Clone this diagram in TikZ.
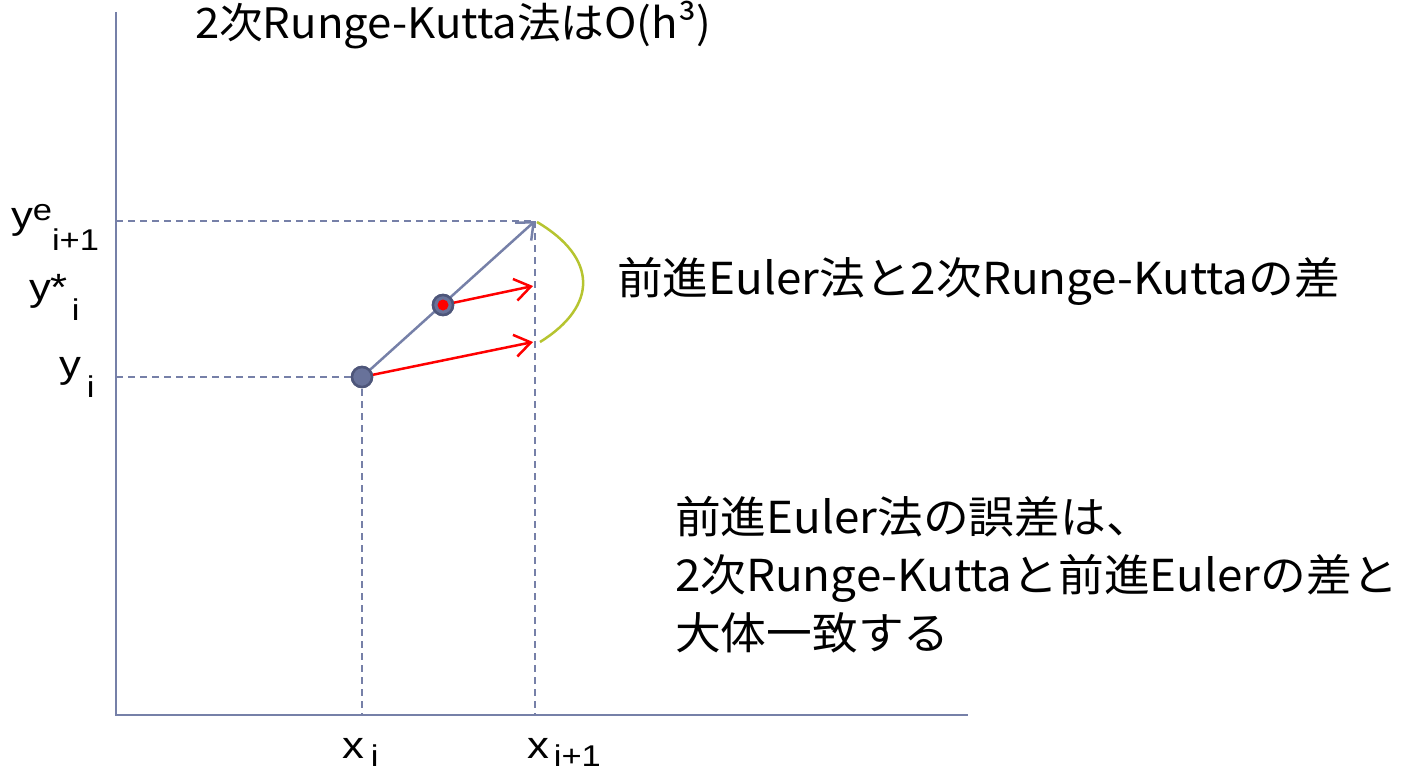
\documentclass[tikz,border=0pt]{standalone}
\usepackage{fontspec}
\usetikzlibrary{arrows.meta}
\newfontfamily\jpf[FakeStretch=1.04]{Noto Sans CJK JP}
\newfontfamily\labf[FakeStretch=1.15]{Liberation Sans}
\definecolor{axisc}{RGB}{118,128,168}
\definecolor{dotfill}{RGB}{104,114,154}
\definecolor{dotedge}{RGB}{78,86,122}
\definecolor{curvec}{RGB}{182,196,48}
\newcommand{\bigjp}{\jpf\fontsize{44pt}{52pt}\selectfont}
\newcommand{\titjp}{\jpf\fontsize{42pt}{50pt}\selectfont}
\newcommand{\labmain}{\labf\fontsize{38pt}{44pt}\selectfont}
\newcommand{\labsub}{\labf\fontsize{30pt}{36pt}\selectfont}
\tikzset{
  axisline/.style={draw=axisc, line width=2pt},
  guide/.style={draw=axisc, line width=2.2pt, dash pattern=on 7pt off 5pt},
  txt/.style={inner sep=0pt, outer sep=0pt, anchor=base west},
  dot/.style={circle, fill=dotfill, draw=dotedge, line width=2.5pt, minimum size=20pt, inner sep=0pt},
  reddot/.style={circle, fill=red, inner sep=0pt, minimum size=11pt},
  grayarrow/.style={draw=axisc, line width=2.5pt, -{Straight Barb[length=14pt,width=24pt]}},
  redarrow/.style={draw=red, line width=2.5pt, -{Straight Barb[length=16pt,width=22pt]}},
  errcurve/.style={draw=curvec, line width=2.5pt}
}
\begin{document}
\begin{tikzpicture}[x=1pt,y=-1pt]
\useasboundingbox (0,0) rectangle (1401,773);
% axes
\coordinate (ytop) at (116,12);
\coordinate (O) at (116,715);
\coordinate (xend) at (968,715);
\draw[axisline] (ytop) -- (O) -- (xend);
% key points
\coordinate (pe) at (535,221);
\coordinate (ay1) at (116,221);
\coordinate (ay2) at (116,377);
\coordinate (ax1) at (362,715);
\coordinate (ax2) at (535,715);
\coordinate (r1) at (533,342);
\coordinate (r2) at (533,286);
\coordinate (c1) at (537,222);
\coordinate (c2) at (540,342);
\node[dot] (pi) at (362,377) {};
\node[dot] (ps) at (443,305) {};
% guides
\draw[guide] (ay1) -- (pe);
\draw[guide] (ay2) -- (pi.center);
\draw[guide] (pi.center) -- (ax1);
\draw[guide] (pe) -- (ax2);
% arrows
\draw[grayarrow] (pi.center) -- (pe);
\draw[redarrow] (pi.center) -- (r1);
\draw[redarrow] (ps.center) -- (r2);
\node[dot] at (pi) {};
\node[dot] at (ps) {};
\node[reddot] (psc) at (ps) {};
% error curve
\draw[errcurve] (c1) .. controls (598,258) and (598,306) .. (c2);
% axis labels
\node[txt] (lye) at (11,228) {\labmain y\raisebox{8pt}{\labsub e}\raisebox{-22pt}{\labsub i+1}};
\node[txt] (lys) at (29,300) {\labmain y*\hspace{4pt}\raisebox{-20pt}{\labsub i}};
\node[txt] (lyi) at (59,377) {\labmain y\hspace{6pt}\raisebox{-20pt}{\labsub i}};
\node[txt] (lxi) at (342,758) {\labmain x\hspace{7pt}\raisebox{-8pt}{\labsub i}};
\node[txt] (lxj) at (527,758) {\labmain x\hspace{5pt}\raisebox{-8pt}{\labsub i+1}};
% texts
\node[txt] (title) at (195,39) {\titjp 2次Runge-Kutta法はO(h³)};
\node[txt] (diff) at (617,294) {\bigjp 前進Euler法と2次Runge-Kuttaの差};
\node[txt] (l1) at (675,533) {\bigjp 前進Euler法の誤差は、};
\node[txt] (l2) at (675,591) {\bigjp 2次Runge-Kuttaと前進Eulerの差と};
\node[txt] (l3) at (675,649) {\bigjp 大体一致する};
\end{tikzpicture}
\end{document}
